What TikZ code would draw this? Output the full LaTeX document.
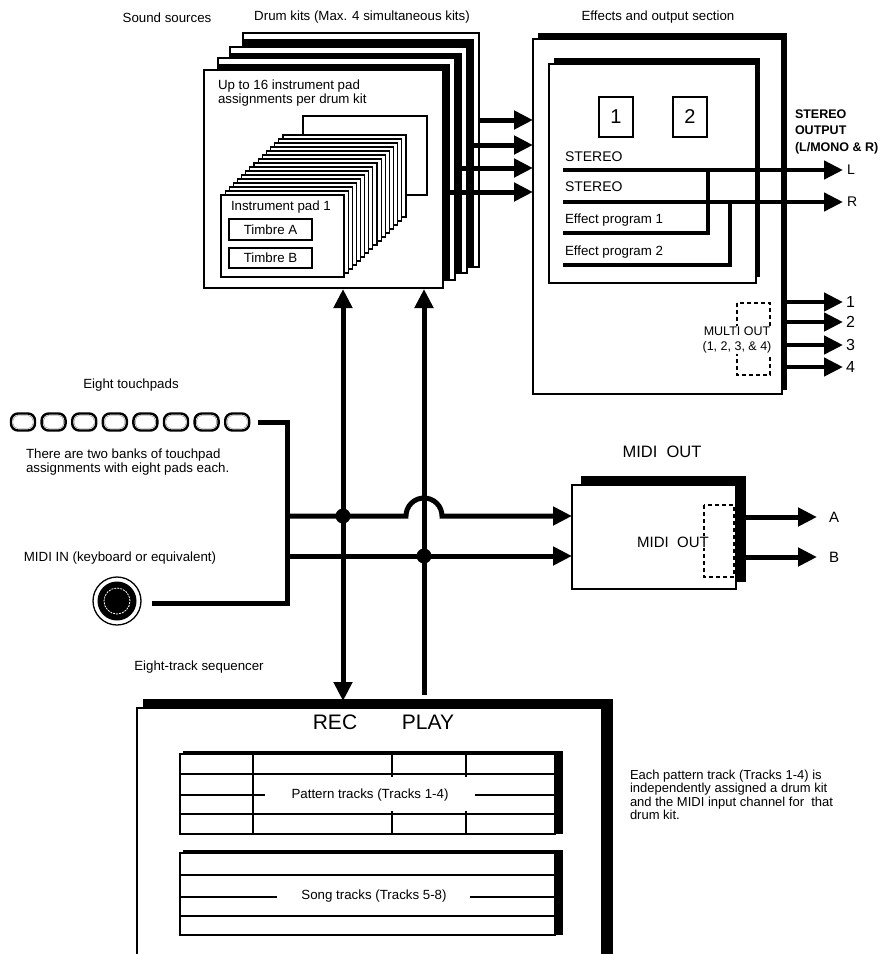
\documentclass[tikz,border=0pt]{standalone}
\usepackage{fontspec}
\setmainfont{Liberation Sans}
\usetikzlibrary{arrows.meta}
\begin{document}
\begin{tikzpicture}[x=1pt,y=-1pt,line join=miter,
  every node/.style={inner sep=0pt,outer sep=0pt,font=\fontsize{13.3}{14.5}\selectfont},
  frameline/.style={line width=1.4pt},
  padline/.style={line width=1.1pt},
  busline/.style={line width=5pt},
  busarrow/.style={line width=5pt,-{Triangle[length=19pt,width=18pt]}},
  dualarrow/.style={line width=5pt,{Triangle[length=19pt,width=18pt]}-{Triangle[length=19pt,width=18pt]}},
  fxline/.style={line width=4.5pt},
  fxarrow/.style={line width=4.5pt,-{Triangle[length=19pt,width=18pt]}},
  dashbox/.style={line width=1.1pt,dash pattern=on 4pt off 3pt},
]
\useasboundingbox[fill=white] (0,0) rectangle (888,954);

% ---------- titles ----------
\node (tsound) at (167,18) {Sound sources};
\node (tdrum) at (362,17) {Drum kits (Max. 4 simultaneous kits)};
\node (tfx) at (658,17) {Effects and output section};

% ---------- drum kit stack ----------
\filldraw[frameline,fill=white] (243,33) rectangle (479,267);
\fill (243,39) rectangle (474,267);
\draw[frameline] (243,33) rectangle (479,267);
\filldraw[frameline,fill=white] (230,47) rectangle (467,273);
\fill (230,53) rectangle (462,273);
\draw[frameline] (230,47) rectangle (467,273);
\filldraw[frameline,fill=white] (218,58) rectangle (455,280);
\fill (218,64) rectangle (450,280);
\draw[frameline] (218,58) rectangle (455,280);
\filldraw[frameline,fill=white] (204,70) rectangle (443,288);

\node[anchor=west,align=left] (tupto) at (218,93) {Up to 16 instrument pad\\assignments per drum kit};
\draw[padline,fill=white] (303,116) rectangle (427,195);
\foreach \i in {15,14,...,1}{
  \filldraw[padline,fill=white] ({221+4.13*\i},{195-4*\i}) rectangle ++(123,82);
}
\filldraw[frameline,fill=white] (221,195) rectangle (344,277);
\node[anchor=west] (tpad1) at (231,207) {Instrument pad 1};
\node[draw,frameline,minimum width=83pt,minimum height=21pt] (timbreA) at (270.5,229.5) {Timbre A};
\node[draw,frameline,minimum width=83pt,minimum height=20pt] (timbreB) at (270.5,258) {Timbre B};

% kit outputs
\coordinate (k3o) at (479,120); \coordinate (f1i) at (533,120);
\coordinate (k2o) at (467,145); \coordinate (f2i) at (533,145);
\coordinate (k1o) at (455,168); \coordinate (f3i) at (533,168);
\coordinate (k0o) at (443,192); \coordinate (f4i) at (533,192);

% ---------- effects box ----------
\fill (538,33) rectangle (787,390);
\filldraw[frameline,fill=white] (533,39) rectangle (782,394);
\fill (554,58) rectangle (760,277);
\filldraw[frameline,fill=white] (549,64) rectangle (756,283);
\node[draw,frameline,minimum width=34pt,minimum height=40pt,font=\fontsize{20}{22}\selectfont] (fx1) at (616,117) {1};
\node[draw,frameline,minimum width=34pt,minimum height=40pt,font=\fontsize{20}{22}\selectfont] (fx2) at (690,117) {2};
\node[anchor=west,font=\fontsize{14}{15}\selectfont] (st1) at (565,157) {STEREO};
\node[anchor=west,font=\fontsize{14}{15}\selectfont] (st2) at (565,187) {STEREO};
\node[anchor=west] (ep1) at (565,220) {Effect program 1};
\node[anchor=west] (ep2) at (565,252) {Effect program 2};

\draw[busarrow] (k3o) -- (f1i);
\draw[busarrow] (k2o) -- (f2i);
\draw[busarrow] (k1o) -- (f3i);
\draw[busarrow] (k0o) -- (f4i);

\coordinate (sL) at (563,170); \coordinate (oL) at (843,170);
\coordinate (sR) at (563,202); \coordinate (oR) at (843,202);
\coordinate (e1) at (563,233); \coordinate (j1) at (708,170);
\coordinate (e2) at (563,265); \coordinate (j2) at (730,202);
\draw[fxline] (e1) -| (j1);
\draw[fxline] (e2) -| (j2);
\draw[fxarrow] (sL) -- (oL);
\draw[fxarrow] (sR) -- (oR);
\node[anchor=west,font=\fontsize{14}{15}\selectfont] (lL) at (847,170) {L};
\node[anchor=west,font=\fontsize{14}{15}\selectfont] (lR) at (847,202) {R};
\node[anchor=west,align=left,font=\bfseries\fontsize{12.5}{16.5}\selectfont] (tstout) at (795,131.5) {STEREO\\OUTPUT\\(L/MONO \& R)};

% multi out
\draw[dashbox] (737,303) rectangle (770,375);
\node[fill=white,inner sep=1pt,align=center,font=\fontsize{12.5}{15}\selectfont] (tmulti) at (737,340) {MULTI OUT\\(1, 2, 3, \& 4)};
\foreach \y/\n in {302/1,322/2,345/3,367/4}{
  \coordinate (mo\n) at (782,\y);
  \coordinate (mt\n) at (843,\y);
  \draw[fxarrow] (mo\n) -- (mt\n);
  \node[anchor=west,font=\fontsize{16}{17}\selectfont] (ml\n) at (846,\y) {\n};
}

% ---------- touchpads ----------
\node (ttouch) at (131,385) {Eight touchpads};
\foreach \k in {0,...,7}{
  \draw[line width=2.4pt,rounded corners=7pt,fill=white] ({11+30.6*\k},413.5) rectangle ++(24,17);
  \draw[line width=0.4pt,gray,rounded corners=5pt] ({13+30.6*\k},415.5) rectangle ++(20,13);
}
\node[anchor=west,align=left] (tbanks) at (26,462) {There are two banks of touchpad\\assignments with eight pads each.};
\coordinate (tpout) at (258,422);

% ---------- MIDI IN ----------
\node (tmidiin) at (120,558) {MIDI IN (keyboard or equivalent)};
\draw[line width=1.3pt] (117,601) circle[radius=24pt];
\fill (117,601) circle[radius=19.5pt];
\draw[white,line width=0.8pt,dash pattern=on 2pt off 1pt] (117,601) circle[radius=13pt];
\coordinate (jackout) at (152,603);

% ---------- REC / PLAY verticals ----------
\coordinate (kitrec) at (343,289);
\coordinate (seqrec) at (343,701);
\coordinate (kitplay) at (424,289);
\coordinate (seqplay) at (424,695);
\draw[dualarrow] (seqrec) -- (kitrec);
\draw[busarrow] (seqplay) -- (kitplay);

% bus
\coordinate (busA) at (287,516);
\coordinate (busB) at (287,556);
\coordinate (moA) at (572,516);
\coordinate (moB) at (572,556);
\draw[busline] (tpout) -| (287,603) -- (jackout);
\draw[busarrow] (busA) -- (406,516) arc[start angle=180,end angle=0,radius=18pt] -- (moA);
\draw[busarrow] (busB) -- (moB);
\fill (343,516) circle[radius=7.5pt];
\fill (424,556) circle[radius=7.5pt];

% ---------- MIDI OUT ----------
\node[font=\fontsize{16.5}{18}\selectfont] (tmidiout) at (662,452) {MIDI\ \ OUT};
\fill (581,476) rectangle (746,582);
\filldraw[frameline,fill=white] (572,485) rectangle (736,589);
\draw[dashbox] (704,505) rectangle (734,577);
\node[fill=white,inner sep=1pt,font=\fontsize{15}{16}\selectfont] (tmidiout2) at (673,542) {MIDI\ \ OUT};
\coordinate (oA) at (746,517); \coordinate (tA) at (817,517);
\coordinate (oB) at (746,557); \coordinate (tB) at (817,557);
\draw[busarrow] (oA) -- (tA);
\draw[busarrow] (oB) -- (tB);
\node[anchor=west,font=\fontsize{15}{16}\selectfont] (lA) at (829,517) {A};
\node[anchor=west,font=\fontsize{15}{16}\selectfont] (lB) at (829,557) {B};

% ---------- sequencer ----------
\node (tseq) at (199,667) {Eight-track sequencer};
\fill (143,699) rectangle (613,954);
\fill[white] (137,708) rectangle (602,954);
\draw[frameline] (137,954) -- (137,708) -- (602,708) -- (602,954);
\node[font=\fontsize{21}{22}\selectfont] (trec) at (335,722) {REC};
\node[font=\fontsize{21}{22}\selectfont] (tplay) at (428,722) {PLAY};

% pattern tracks table
\fill (183,751) rectangle (563,834);
\filldraw[frameline,fill=white] (180,754) rectangle (555,834);
\draw[frameline] (180,774) -- (555,774);
\draw[frameline] (180,814) -- (555,814);
\draw[frameline] (180,795) -- (265,795);
\draw[frameline] (475,795) -- (555,795);
\draw[frameline] (253,754) -- (253,834);
\draw[frameline] (392,754) -- (392,777);
\draw[frameline] (466,754) -- (466,777);
\draw[frameline] (392,811) -- (392,834);
\draw[frameline] (466,811) -- (466,834);
\node (tpattern) at (370,795) {Pattern tracks (Tracks 1-4)};

% song tracks table
\fill (183,850) rectangle (563,935);
\filldraw[frameline,fill=white] (180,853) rectangle (555,935);
\draw[frameline] (180,875) -- (555,875);
\draw[frameline] (180,916) -- (555,916);
\draw[frameline] (180,897) -- (277,897);
\draw[frameline] (470,897) -- (555,897);
\node (tsong) at (374,896) {Song tracks (Tracks 5-8)};

\node[anchor=west,align=left,font=\fontsize{13}{13.5}\selectfont] (tnote) at (630,795) {Each pattern track (Tracks 1-4) is\\independently assigned a drum kit\\and the MIDI input channel for\ \ that\\drum kit.};

\end{tikzpicture}
\end{document}
